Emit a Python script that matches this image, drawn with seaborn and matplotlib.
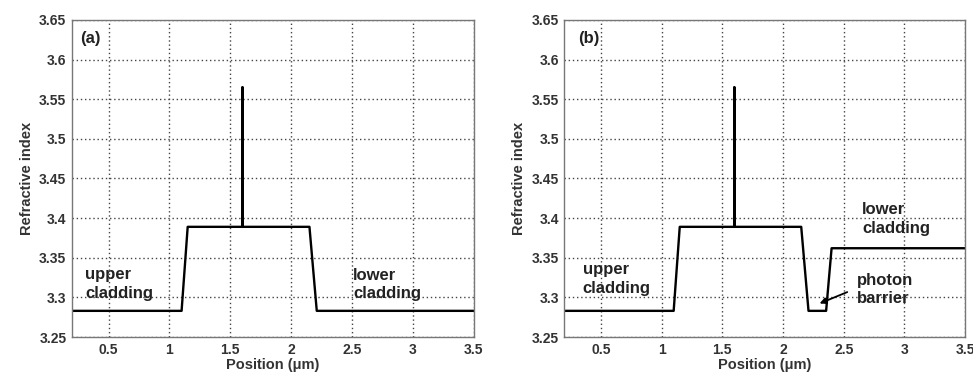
# Refractive index profiles (a) and (b), recreated with seaborn line plots
import matplotlib.pyplot as plt
import pandas as pd
import seaborn as sns

# profile (a): breakpoints along position (um) and refractive index
pos_a = [0.2, 1.1, 1.15, 1.6, 1.6, 1.6, 2.15, 2.21, 3.5]
n_a = [3.283, 3.283, 3.389, 3.389, 3.565, 3.389, 3.389, 3.283, 3.283]

# profile (b): same core, then photon barrier and raised lower cladding
pos_b = [0.2, 1.1, 1.15, 1.6, 1.6, 1.6, 2.15, 2.21, 2.355, 2.4, 3.5]
n_b = [3.283, 3.283, 3.389, 3.389, 3.565, 3.389, 3.389, 3.283, 3.283, 3.362, 3.362]

x_ticks = [0.5, 1, 1.5, 2, 2.5, 3, 3.5]
x_tick_labels = ['0.5', '1', '1.5', '2', '2.5', '3', '3.5']
y_ticks = [3.25, 3.3, 3.35, 3.4, 3.45, 3.5, 3.55, 3.6, 3.65]
y_tick_labels = ['3.25', '3.3', '3.35', '3.4', '3.45', '3.5', '3.55', '3.6', '3.65']

sns.set_style('white')
plt.rcParams['font.family'] = ['Liberation Sans', 'DejaVu Sans']
plt.rcParams['font.weight'] = 'bold'

fig = plt.figure(figsize=(9.73, 3.73), dpi=100)
ax_a = fig.add_axes([0.074, 0.0965, 0.413, 0.85])
ax_b = fig.add_axes([0.580, 0.0965, 0.412, 0.85])

df_a = pd.DataFrame({'pos': pos_a, 'n': n_a})
df_b = pd.DataFrame({'pos': pos_b, 'n': n_b})

for ax, df in [(ax_a, df_a), (ax_b, df_b)]:
    sns.lineplot(data=df, x='pos', y='n', sort=False, estimator=None,
                 color='black', linewidth=1.7, ax=ax)
    ax.set_xlim(0.2, 3.5)
    ax.set_ylim(3.25, 3.65)
    ax.set_xticks(x_ticks)
    ax.set_xticklabels(x_tick_labels, fontsize=10, fontweight='bold', color='#333333')
    ax.set_yticks(y_ticks)
    ax.set_yticklabels(y_tick_labels, fontsize=10, fontweight='bold', color='#333333')
    ax.tick_params(length=3, direction='in', pad=4)
    ax.grid(True, linestyle=(0, (1, 2)), color='#444444', linewidth=1.0)
    for s in ax.spines.values():
        s.set_color('#777777')
        s.set_linewidth(1.0)
    ax.set_xlabel('Position (\u03bcm)', fontsize=10.5, fontweight='bold', color='#333333', labelpad=1)
    ax.set_ylabel('Refractive index', fontsize=10.5, fontweight='bold', color='#333333', labelpad=4)

txt = dict(fontsize=12, fontweight='bold', color='#222222', linespacing=1.3)

ax_a.text(0.27, 3.627, '(a)', va='center', **txt)
ax_a.text(0.31, 3.317, 'upper\ncladding', va='center', **txt)
ax_a.text(2.51, 3.316, 'lower\ncladding', va='center', **txt)

ax_b.text(0.31, 3.627, '(b)', va='center', **txt)
ax_b.text(0.35, 3.323, 'upper\ncladding', va='center', **txt)
ax_b.text(2.65, 3.399, 'lower\ncladding', va='center', **txt)
ax_b.text(2.61, 3.310, 'photon\nbarrier', va='center', **txt)
ax_b.annotate('', xy=(2.28, 3.291), xytext=(2.55, 3.308),
              arrowprops=dict(arrowstyle='-|>', color='black', lw=1.3, mutation_scale=9))

fig.savefig('out.png', dpi=100)
